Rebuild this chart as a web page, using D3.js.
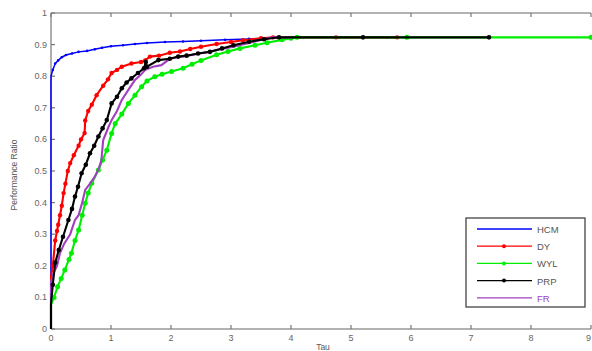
<!DOCTYPE html>
<html>
<head>
<meta charset="utf-8">
<script src="https://cdn.jsdelivr.net/npm/d3@7"></script>
<style>
  body { margin: 0; background: #fff; }
  svg { display: block; font-family: "Liberation Sans", Arial, sans-serif; }
  .tick-lbl { fill: #666; font-size: 9px; }
</style>
</head>
<body>
<script>
// performance profiles: [tau, ratio]
var hcm = [[0,0],[0,0.80],[0.03,0.82],[0.07,0.84],[0.12,0.85],[0.18,0.86],[0.25,0.867],[0.35,0.872],[0.46,0.877],
  [0.6,0.88],[0.73,0.885],[0.85,0.89],[1.0,0.895],[1.2,0.898],[1.4,0.902],[1.6,0.905],[1.9,0.908],[2.2,0.91],
  [2.5,0.912],[2.9,0.915],[3.3,0.918],[3.7,0.921],[4.2,0.923],[5.6,0.923]];
var dy = [[0,0],[0,0.165],[0.03,0.2],[0.07,0.28],[0.1,0.31],[0.12,0.33],[0.15,0.36],[0.18,0.39],[0.21,0.43],
  [0.24,0.46],[0.28,0.5],[0.32,0.525],[0.38,0.55],[0.46,0.58],[0.5,0.6],[0.56,0.62],[0.57,0.66],[0.62,0.69],
  [0.68,0.71],[0.76,0.74],[0.87,0.77],[0.95,0.79],[1.01,0.81],[1.1,0.82],[1.18,0.83],[1.34,0.84],[1.5,0.845],
  [1.57,0.85],[1.65,0.862],[1.8,0.865],[1.98,0.874],[2.15,0.878],[2.32,0.886],[2.5,0.893],[2.76,0.902],
  [3.0,0.908],[3.2,0.914],[3.5,0.92],[3.7,0.923],[4.75,0.923],[5.77,0.923]];
var wyl = [[0,0],[0,0.076],[0.05,0.1],[0.11,0.134],[0.17,0.16],[0.23,0.187],[0.3,0.22],[0.34,0.24],[0.4,0.28],
  [0.46,0.313],[0.52,0.36],[0.57,0.398],[0.62,0.43],[0.68,0.461],[0.79,0.503],[0.86,0.535],[0.93,0.566],
  [1.01,0.619],[1.07,0.65],[1.18,0.68],[1.29,0.714],[1.4,0.74],[1.51,0.767],[1.6,0.785],[1.73,0.798],
  [1.85,0.806],[2.01,0.815],[2.2,0.825],[2.35,0.838],[2.5,0.85],[2.76,0.868],[2.95,0.878],[3.15,0.888],
  [3.4,0.898],[3.6,0.906],[3.85,0.915],[4.0,0.92],[4.1,0.923],[5.93,0.923],[9,0.923]];
var prp = [[0,0],[0,0.08],[0.03,0.14],[0.07,0.21],[0.13,0.25],[0.2,0.292],[0.29,0.345],[0.35,0.38],[0.4,0.419],
  [0.45,0.45],[0.51,0.493],[0.58,0.52],[0.65,0.556],[0.72,0.58],[0.79,0.609],[0.86,0.635],[0.93,0.661],
  [1.01,0.714],[1.1,0.735],[1.18,0.762],[1.26,0.78],[1.34,0.793],[1.45,0.81],[1.55,0.825],[1.58,0.845],
  [1.6,0.83],[1.79,0.851],[1.98,0.855],[2.12,0.862],[2.26,0.865],[2.45,0.872],[2.65,0.877],[2.85,0.888],
  [3.04,0.898],[3.3,0.909],[3.55,0.917],[3.8,0.923],[5.2,0.923],[7.3,0.923]];
var fr = [[0,0],[0,0.15],[0.05,0.18],[0.1,0.2],[0.15,0.24],[0.22,0.27],[0.32,0.3],[0.4,0.345],[0.46,0.36],
  [0.52,0.4],[0.57,0.44],[0.65,0.46],[0.73,0.482],[0.8,0.51],[0.84,0.535],[0.87,0.598],[0.96,0.64],[1.01,0.661],
  [1.1,0.69],[1.18,0.725],[1.3,0.76],[1.4,0.788],[1.5,0.805],[1.57,0.82],[1.7,0.83],[1.84,0.835],[1.98,0.855],
  [2.12,0.86],[2.3,0.866],[2.48,0.872],[2.75,0.882],[3.04,0.893],[3.3,0.905],[3.5,0.915],[3.7,0.923],[4.0,0.923]];

var names = ["HCM", "DY", "WYL", "PRP", "FR"];
var colors = ["#0000ff", "#ff0000", "#00ee00", "#000000", "#a040c0"];
var xTicks = [0,1,2,3,4,5,6,7,8,9];
var yTicks = [0,0.1,0.2,0.3,0.4,0.5,0.6,0.7,0.8,0.9,1];

var width = 592, height = 351;
var margin = {left: 51, right: 1, top: 13, bottom: 22};

var svg = d3.select("body").append("svg")
    .attr("width", width)
    .attr("height", height);

var x = d3.scaleLinear().domain([0, 9]).range([margin.left, width - margin.right]);
var y = d3.scaleLinear().domain([0, 1]).range([height - margin.bottom, margin.top]);

// cadre
svg.append("line").attr("x1", x(0)).attr("x2", x(9)).attr("y1", y(0)).attr("y2", y(0))
    .attr("stroke", "#999").attr("stroke-width", 1.6);
svg.append("line").attr("x1", x(0)).attr("x2", x(9)).attr("y1", y(1)).attr("y2", y(1))
    .attr("stroke", "#999").attr("stroke-width", 1.6);
svg.append("line").attr("x1", x(0)).attr("x2", x(0)).attr("y1", y(0)).attr("y2", y(1))
    .attr("stroke", "#999").attr("stroke-width", 1.6);

// ticks
xTicks.forEach(function (t, i) {
    svg.append("line").attr("x1", x(t)).attr("x2", x(t)).attr("y1", y(0)).attr("y2", y(0) - 4)
        .attr("stroke", "#777").attr("stroke-width", 1.2);
    svg.append("line").attr("x1", x(t)).attr("x2", x(t)).attr("y1", y(1)).attr("y2", y(1) + 4)
        .attr("stroke", "#777").attr("stroke-width", 1.2);
    var last = i == xTicks.length - 1;
    svg.append("text").attr("class", "tick-lbl").attr("x", last ? x(t) : x(t)).attr("y", y(0) + 12)
        .attr("text-anchor", last ? "end" : "middle").text(t);
});
yTicks.forEach(function (t) {
    svg.append("line").attr("x1", x(0)).attr("x2", x(0) + 4).attr("y1", y(t)).attr("y2", y(t))
        .attr("stroke", "#777").attr("stroke-width", 1.2);
    svg.append("text").attr("class", "tick-lbl").attr("x", x(0) - 4).attr("y", y(t) + 3)
        .attr("text-anchor", "end").text(t);
});

// titres des axes
svg.append("text").attr("x", 323).attr("y", 350).attr("text-anchor", "middle")
    .attr("fill", "#555").attr("font-size", 8.5).text("Tau");
svg.append("text").attr("transform", "translate(17,175) rotate(-90)").attr("text-anchor", "middle")
    .attr("fill", "#555").attr("font-size", 8.5).text("Performance Ratio");

var line = d3.line().x(function (d) { return x(d[0]); }).y(function (d) { return y(d[1]); });
var series = [hcm, dy, wyl, fr, prp];
var order = [0, 1, 2, 4, 3];
var markR = [1.3, 2.2, 2.5, 2.3, 0];

series.forEach(function (s, i) {
    var k = order[i];
    svg.append("path").datum(s).attr("d", line).attr("fill", "none")
        .attr("stroke", colors[k]).attr("stroke-width", k == 0 ? 1.5 : 2.1);
    if (markR[k] > 0) {
        svg.append("g").selectAll("circle").data(s.slice(2)).enter().append("circle")
            .attr("cx", function (d) { return x(d[0]); })
            .attr("cy", function (d) { return y(d[1]); })
            .attr("r", markR[k]).attr("fill", colors[k]);
    }
});

// legende
var lg = svg.append("g").attr("transform", "translate(466,218)");
lg.append("rect").attr("width", 119).attr("height", 89).attr("fill", "#fff")
    .attr("stroke", "#444").attr("stroke-width", 1.3);
names.forEach(function (n, i) {
    var yy = 11 + i * 17.2;
    lg.append("line").attr("x1", 11).attr("x2", 66).attr("y1", yy).attr("y2", yy)
        .attr("stroke", colors[i]).attr("stroke-width", 1.3);
    if (i > 0 && i < 4) {
        lg.append("circle").attr("cx", 38).attr("cy", yy).attr("r", 2).attr("fill", colors[i]);
    }
    lg.append("text").attr("x", 71).attr("y", yy + 4).attr("font-size", 9.5)
        .attr("fill", i == 4 ? "#a040c0" : "#555").text(n);
});
</script>
</body>
</html>
